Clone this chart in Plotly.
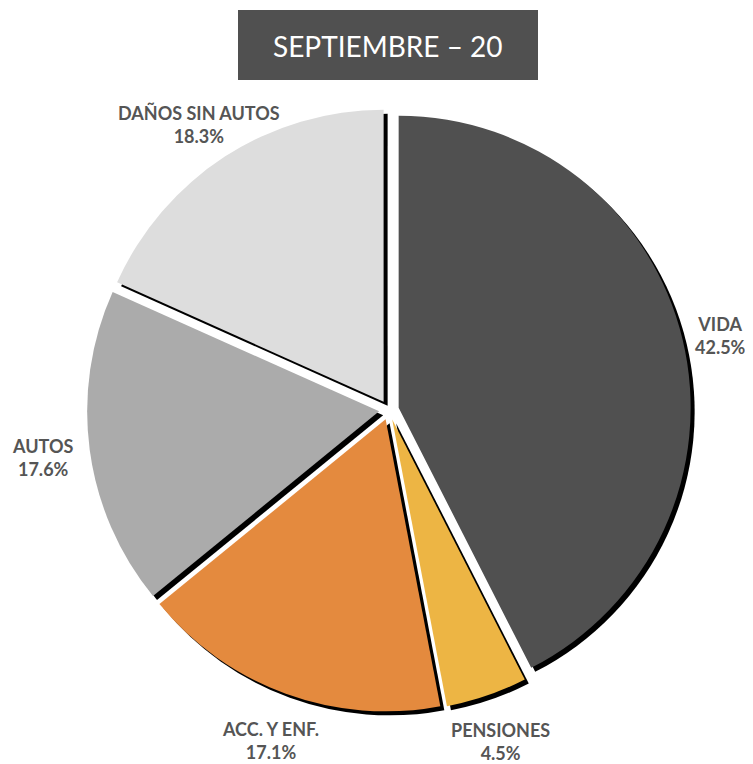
import plotly.graph_objects as go

categories = ["VIDA", "PENSIONES", "ACC. Y ENF.", "AUTOS", "DAÑOS SIN AUTOS"]
shares = [42.5, 4.5, 17.1, 17.6, 18.3]
slice_colors = ["#505050", "#EDB544", "#E48A3E", "#ABABAB", "#DDDDDD"]
title_text = "SEPTIEMBRE – 20"

W, H = 753, 764
OFF = 8  # page body margin
# label centres (page px), layout only
label_pos = [(720, 335), (500, 741), (270, 740), (42, 457), (199, 124)]

def px(x):
    return (x - OFF) / W

def py(y):
    return (H - (y - OFF)) / H

cx, cy, r, pull = 389, 410, 292, 0.034
box = r * (1 + pull)
x0, x1 = px(cx - box), px(cx + box)
y0, y1 = py(cy + box), py(cy - box)
sx, sy = 4 / W, 4 / H

fig = go.Figure()
# shadow
fig.add_trace(go.Pie(
    labels=categories, values=shares, sort=False, direction="clockwise",
    pull=[pull] * len(shares),
    marker=dict(colors=["#000000"] * len(shares), line=dict(width=0)),
    textinfo="none", hoverinfo="skip", showlegend=False,
    domain=dict(x=[x0 + sx, x1 + sx], y=[y0 - sy, y1 - sy]),
))
fig.add_trace(go.Pie(
    labels=categories, values=shares, sort=False, direction="clockwise",
    pull=[pull] * len(shares),
    marker=dict(colors=slice_colors, line=dict(width=0)),
    textinfo="none", showlegend=False,
    domain=dict(x=[x0, x1], y=[y0, y1]),
))
total = sum(shares)
for cat, val, (lx, ly) in zip(categories, shares, label_pos):
    fig.add_annotation(text=f"{cat}<br>{val / total * 100:.1f}%",
                       xref="paper", yref="paper", x=px(lx), y=py(ly),
                       xanchor="center", yanchor="middle", showarrow=False,
                       font=dict(family="Lato", size=18, color="#555555", weight="bold"))
fig.add_shape(type="rect", xref="paper", yref="paper",
              x0=px(238), x1=px(538), y0=py(80), y1=py(10),
              fillcolor="#505050", line=dict(width=0))
fig.add_annotation(text=title_text, xref="paper", yref="paper",
                   x=px(388), y=py(46), xanchor="center", yanchor="middle",
                   showarrow=False,
                   font=dict(family="Lato", size=28, color="white"))
fig.update_layout(width=W, height=H, margin=dict(l=0, r=0, t=0, b=0),
                  paper_bgcolor="white", plot_bgcolor="white")
fig.write_html("out.html")
